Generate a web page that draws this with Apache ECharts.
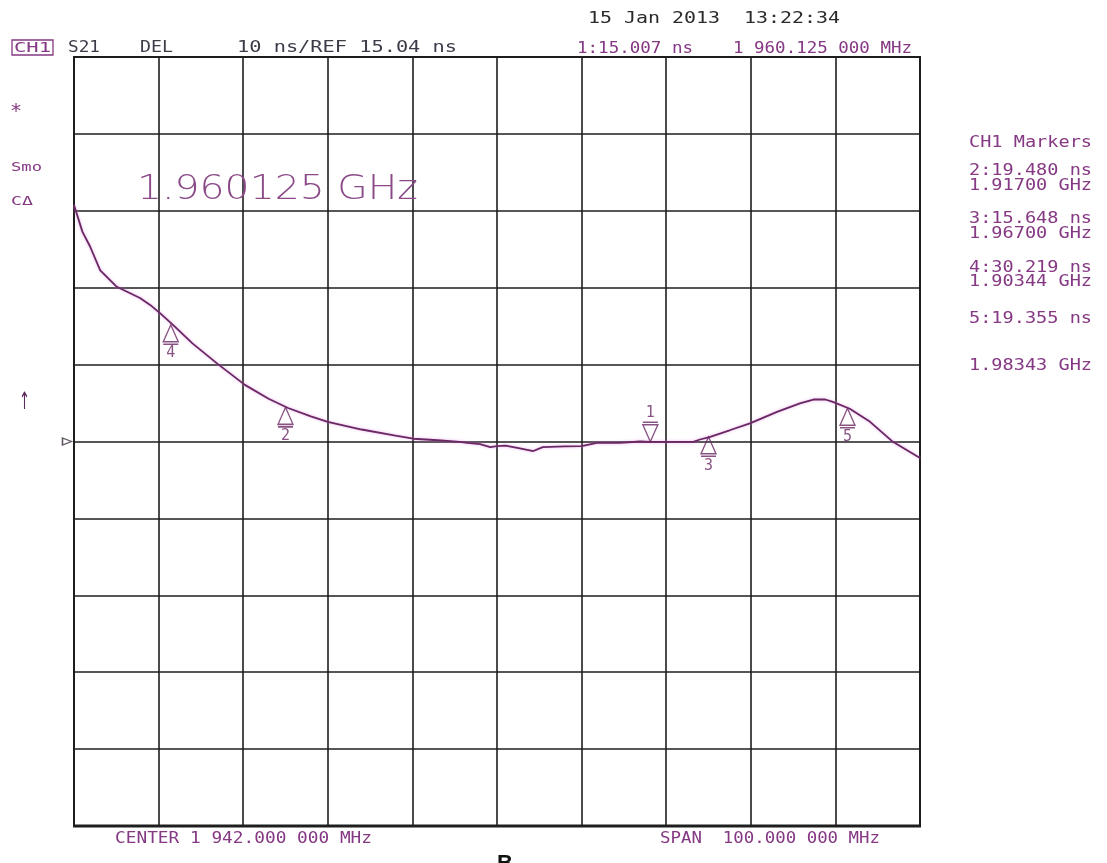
<!DOCTYPE html>
<html>
<head>
<meta charset="utf-8">
<script src="https://cdn.jsdelivr.net/npm/echarts@6/dist/echarts.min.js"></script>
<style>
html,body{margin:0;padding:0;background:#fff;}
#chart{width:1107px;height:863px;}
</style>
</head>
<body>
<div id="chart"></div>
<script>
// ---- Instrument settings ----
const CENTER_MHZ = 1942.0;
const SPAN_MHZ = 100.0;
const REF_NS = 15.04;
const SCALE_NS_PER_DIV = 10;

// ---- Trace (S21 group delay) ----
const freqMHz = [1892.0, 1893.0, 1893.9, 1895.1, 1897.0, 1899.8, 1901.0, 1902.2, 1903.7, 1906.0,
  1908.9, 1912.2, 1915.0, 1917.3, 1920.0, 1922.0, 1926.0, 1930.0, 1932.1, 1935.0,
  1937.6, 1938.5, 1940.0, 1941.2, 1942.0, 1943.0, 1944.4, 1946.3, 1947.4, 1950.0,
  1952.0, 1953.8, 1956.5, 1958.9, 1960.1, 1962.1, 1965.2, 1966.0, 1967.2, 1969.5,
  1971.9, 1975.1, 1977.8, 1979.4, 1980.8, 1981.7, 1983.7, 1986.1, 1988.8, 1992.0];
const delayNs = [45.8, 42.3, 40.4, 37.3, 35.2, 33.7, 32.8, 31.7, 30.2, 27.8,
  25.2, 22.4, 20.6, 19.4, 18.3, 17.6, 16.6, 15.8, 15.4, 15.2,
  15.0, 14.85, 14.7, 14.3, 14.45, 14.5, 14.2, 13.8, 14.3, 14.4,
  14.45, 14.85, 14.85, 15.04, 15.0, 15.0, 15.0, 15.3, 15.65, 16.5,
  17.4, 18.9, 20.0, 20.5, 20.5, 20.2, 19.3, 17.6, 15.0, 12.9];

// ---- Markers ----
const markerIds = ['1', '2', '3', '4', '5'];
const markerFreqMHz = [1960.125, 1917.0, 1967.0, 1903.44, 1983.43];
const markerDelayNs = [15.007, 19.480, 15.648, 30.219, 19.355];

// ---- Annotation texts ----
const headerTexts = ['CH1', 'S21', 'DEL', '10 ns/REF 15.04 ns'];
const dateText = '15 Jan 2013  13:22:34';
const activeMarkerTexts = ['1:15.007 ns', '1 960.125 000 MHz'];
const markerListTexts = ['CH1 Markers', '2:19.480 ns', '1.91700 GHz', '3:15.648 ns', '1.96700 GHz',
  '4:30.219 ns', '1.90344 GHz', '5:19.355 ns', '1.98343 GHz'];
const footerTexts = ['CENTER 1 942.000 000 MHz', 'SPAN  100.000 000 MHz'];
const bigFreqText = '1.960125 GHz';

const PURPLE = '#853883';
const TRACE = '#6a2864';
const INK = '#2a2a2a';
const MONO = 'DejaVu Sans Mono';

const toX = f => f - CENTER_MHZ;
const toY = d => d - REF_NS;
const halfX = SPAN_MHZ / 2;
const halfY = SCALE_NS_PER_DIV * 5;

const traceData = freqMHz.map((f, i) => [toX(f), toY(delayNs[i])]);
const upMarkers = [];
const downMarkers = [];
markerIds.forEach((id, i) => {
  const p = {value: [toX(markerFreqMHz[i]), toY(markerDelayNs[i])], name: id};
  if (id === '1') downMarkers.push(p); else upMarkers.push(p);
});

// measuring helper for fitted text
const mctx = document.createElement('canvas').getContext('2d');
function fitText(text, x, y, width, size, color, opts) {
  opts = opts || {};
  const font = (opts.weight || 'normal') + ' ' + size + 'px ' + (opts.family || ('"' + MONO + '"'));
  mctx.font = font;
  const w = mctx.measureText(text).width;
  const sx = width ? width / w : 1;
  const sy = opts.scaleY || 1;
  return {
    type: 'text', x: x, y: y, scaleX: sx, scaleY: sy, silent: true, z: 10,
    style: {text: text, font: font, fill: color, align: 'left', verticalAlign: opts.va || 'middle'}
  };
}

const graphics = [
  {type: 'rect', shape: {x: 12, y: 40, width: 41, height: 15}, style: {fill: 'none', stroke: PURPLE, lineWidth: 1.3}, silent: true},
  fitText(headerTexts[0], 14, 48, 37, 14, PURPLE),
  fitText(headerTexts[1], 68, 48, 32, 15, '#3e3a48'),
  fitText(headerTexts[2], 140, 48, 33, 15, '#3e3a48'),
  fitText(headerTexts[3], 237, 48, 220, 15, '#3e3a48'),
  fitText(dateText, 588, 19, 252, 16, INK),
  fitText(activeMarkerTexts[0], 577, 49, 116, 15, PURPLE),
  fitText(activeMarkerTexts[1], 733, 49, 179, 15, PURPLE),
  fitText('*', 10, 112, 0, 20, PURPLE),
  fitText('Smo', 11, 168, 31, 13, PURPLE),
  fitText('C\u0394', 11, 202, 22, 13, PURPLE),
  fitText('\u2191', 19, 403, 11, 16, '#5a2a58', {family: '"DejaVu Sans"', scaleY: 1.5}),
  fitText(bigFreqText, 137, 190, 281, 36, '#8a4a88', {weight: '200', family: '"DejaVu Sans ExtraLight", "DejaVu Sans"', scaleY: 0.92}),
  fitText(footerTexts[0], 115, 839, 257, 15, PURPLE),
  fitText(footerTexts[1], 660, 839, 220, 15, PURPLE),
  fitText('B', 497, 853, 0, 22, '#111', {weight: 'bold', family: '"Liberation Sans"', va: 'top'})
];
const listY = [143, 171, 186, 219, 234, 268, 282, 319, 366];
markerListTexts.forEach((t, i) => graphics.push(fitText(t, 969, listY[i], 123, 15, PURPLE)));
// thicker bottom frame edge
graphics.push({type: 'line', shape: {x1: 73, y1: 826, x2: 921, y2: 826}, style: {stroke: '#1e1e1e', lineWidth: 3}, silent: true, z: 9});

const chart = echarts.init(document.getElementById('chart'), null, {renderer: 'canvas'});
const axisCommon = {
  type: 'value',
  interval: SCALE_NS_PER_DIV,
  axisLine: {show: false}, axisTick: {show: false}, axisLabel: {show: false},
  splitLine: {show: true, lineStyle: {color: '#1e1e1e', width: 1.6}}
};
chart.setOption({
  animation: false,
  backgroundColor: '#fff',
  grid: {left: 74, top: 57, right: 187, bottom: 37, show: true, borderColor: '#1e1e1e', borderWidth: 2, containLabel: false},
  xAxis: Object.assign({}, axisCommon, {min: -halfX, max: halfX, interval: SPAN_MHZ / 10}),
  yAxis: Object.assign({}, axisCommon, {min: -halfY, max: halfY}),
  series: [
    {
      type: 'line', data: traceData, showSymbol: false, symbol: 'none', smooth: false,
      lineStyle: {color: TRACE, width: 1.8, shadowColor: 'rgba(220,120,220,0.6)', shadowBlur: 3},
      z: 5
    },
    {
      type: 'scatter', data: upMarkers, clip: false, z: 6,
      symbol: 'path://M7.5,0 L15,17 L0,17 Z M0,19.5 L15,19.5',
      symbolSize: [15, 19.5], symbolKeepAspect: false, symbolOffset: [0, 9.75],
      itemStyle: {color: 'rgba(0,0,0,0)', borderColor: TRACE, borderWidth: 1.4},
      label: {show: true, position: 'bottom', distance: 1, formatter: p => p.name, color: TRACE, fontSize: 15, fontFamily: MONO}
    },
    {
      type: 'scatter', data: downMarkers, clip: false, z: 6,
      symbol: 'path://M0,0 L15,0 M0,2.5 L15,2.5 L7.5,19.5 Z',
      symbolSize: [15, 19.5], symbolKeepAspect: false, symbolOffset: [0, -9.75],
      itemStyle: {color: 'rgba(0,0,0,0)', borderColor: TRACE, borderWidth: 1.4},
      label: {show: true, position: 'top', distance: 1, formatter: p => p.name, color: TRACE, fontSize: 15, fontFamily: MONO}
    },
    {
      type: 'scatter', data: [[-halfX, 0]], clip: false, z: 6,
      symbol: 'path://M0,0 L9,3.5 L0,7 Z',
      symbolSize: [9, 7], symbolOffset: [-7, 0],
      itemStyle: {color: 'rgba(0,0,0,0)', borderColor: '#3a2a3a', borderWidth: 1.4}
    }
  ],
  graphic: graphics
});
</script>
</body>
</html>
